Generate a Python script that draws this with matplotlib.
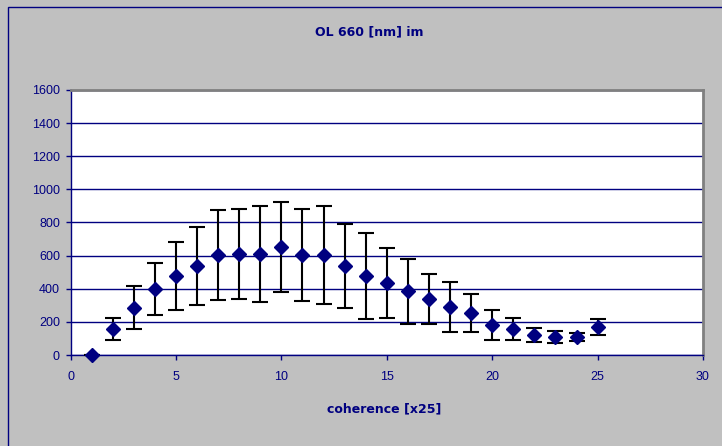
import matplotlib
matplotlib.use("Agg")
import matplotlib.pyplot as plt
from matplotlib.patches import Rectangle

x = list(range(1, 26))
y = [0, 155, 286, 396, 479, 539, 602, 612, 612, 650, 602, 602, 539, 479, 433,
     384, 336, 288, 252, 179, 155, 119, 107, 107, 167]
err = [0, 66, 132, 157, 205, 236, 272, 272, 290, 272, 278, 296, 254, 260, 212,
       198, 151, 151, 115, 90, 66, 42, 36, 24, 48]

title = "OL 660 [nm] im"
xlabel = "coherence [x25]"
xticks = [0, 5, 10, 15, 20, 25, 30]
yticks = [0, 200, 400, 600, 800, 1000, 1200, 1400, 1600]

navy = "#000080"
plt.rcParams['font.family'] = ['Liberation Sans', 'DejaVu Sans']

W, H = 722, 446
fig = plt.figure(figsize=(W / 100, H / 100), dpi=100)
fig.patch.set_facecolor("#C0C0C0")

# outer chart border (left and top visible)
fig.patches.append(Rectangle((8 / W, -0.1), 1.2, 1 - 7 / H + 0.1, transform=fig.transFigure,
                             fill=False, edgecolor=navy, linewidth=1.0))

left, right, top, bottom = 70.5, 703, 90, 355
ax = fig.add_axes([left / W, 1 - bottom / H, (right - left) / W, (bottom - top) / H])
ax.set_facecolor("white")
ax.set_xlim(0, 30)
ax.set_ylim(0, 1600)
ax.set_xticks(xticks)
ax.set_yticks(yticks)
ax.grid(axis='y', color=navy, linewidth=1.0)
ax.set_axisbelow(True)
for s in ['top', 'right']:
    ax.spines[s].set_color("#808080")
    ax.spines[s].set_linewidth(2.0)
for s in ['left', 'bottom']:
    ax.spines[s].set_color(navy)
    ax.spines[s].set_linewidth(1.0)
ax.tick_params(colors=navy, labelsize=9, direction='out', length=3.6, width=1.0)
ax.tick_params(axis='x', pad=8)
ax.tick_params(axis='y', pad=4)
for lab in ax.get_xticklabels() + ax.get_yticklabels():
    lab.set_color(navy)

ax.errorbar(x, y, yerr=err, fmt='none', ecolor='black', elinewidth=1.5,
            capsize=6, capthick=1.5, zorder=3)
ax.plot(x, y, linestyle='none', marker='D', markersize=7.5, color=navy,
        markeredgecolor=navy, zorder=4, clip_on=False)

fig.text(369 / W, 1 - 35.5 / H, title, ha='center', va='baseline', fontsize=9,
         fontweight='bold', color=navy, family='DejaVu Sans')
fig.text(384.5 / W, 1 - 412 / H, xlabel, ha='center', va='baseline', fontsize=9,
         fontweight='bold', color=navy, family='DejaVu Sans')

fig.savefig("out.png", dpi=100, facecolor=fig.get_facecolor())
